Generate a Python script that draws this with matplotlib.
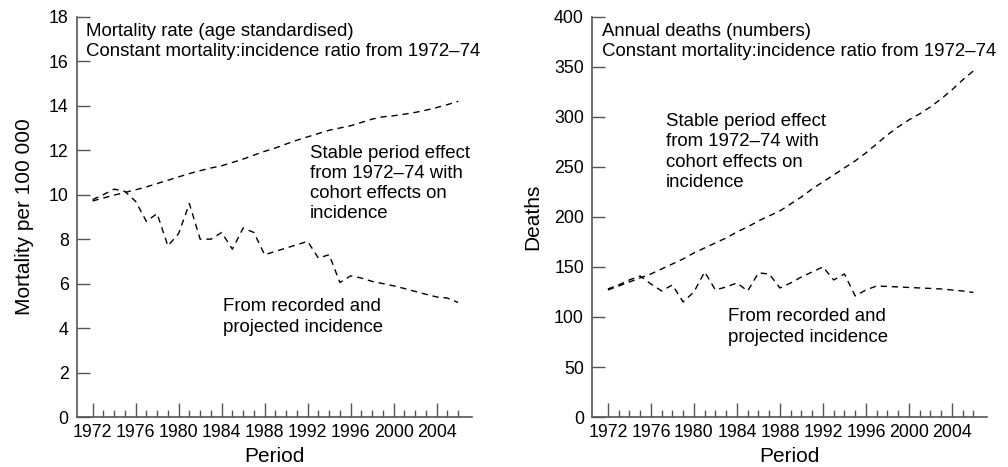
import numpy as np
import matplotlib
matplotlib.use("Agg")
import matplotlib.pyplot as plt
from matplotlib.ticker import MultipleLocator, FixedLocator

plt.rcParams["font.family"] = ["Liberation Sans", "DejaVu Sans"]

# ------------------------------------------------------------------
# Data
# ------------------------------------------------------------------
years = list(range(1972, 2007))

# Left panel: mortality rate per 100 000
rate_stable = [9.72, 9.85, 9.98, 10.1, 10.22, 10.35, 10.5, 10.65, 10.8, 10.95,
               11.08, 11.2, 11.3, 11.45, 11.6, 11.78, 11.95, 12.1, 12.28, 12.45,
               12.6, 12.75, 12.9, 13.0, 13.1, 13.25, 13.4, 13.5, 13.55, 13.62,
               13.7, 13.8, 13.92, 14.05, 14.2]
rate_recorded = [9.78, 10.0, 10.25, 10.15, 9.7, 8.8, 9.15, 7.7, 8.25, 9.6,
                 8.0, 8.0, 8.3, 7.55, 8.5, 8.3, 7.3, 7.45, 7.6, 7.75,
                 7.9, 7.15, 7.3, 6.05, 6.35, 6.25, 6.1, 6.0, 5.9, 5.78,
                 5.65, 5.52, 5.4, 5.35, 5.15]

# Right panel: annual deaths
deaths_stable = [127, 131, 135, 139, 143, 148, 153, 158, 164, 169,
                 174, 179, 185, 190, 196, 201, 206, 213, 220, 228,
                 235, 242, 249, 256, 264, 273, 282, 290, 297, 303,
                 310, 318, 327, 337, 346]
deaths_recorded = [128, 132, 137, 141, 133, 126, 132, 115, 125, 145,
                   127, 130, 134, 126, 144, 143, 129, 134, 140, 145,
                   150, 137, 143, 121, 127, 131, 130.5, 130, 129.5, 129,
                   128.5, 128, 127, 126, 124.5]

major_years = list(range(1972, 2005, 4))

# ------------------------------------------------------------------
# Style
# ------------------------------------------------------------------
axis_color = "#555555"
tick_fs = 12.8
label_fs = 15
note_fs = 13.4
dash = (0, (4.5, 3.5))

fig = plt.figure(figsize=(10.08, 4.67), dpi=100)
ax_l = fig.add_axes([0.0764, 0.107, 0.392, 0.857])
ax_r = fig.add_axes([0.5876, 0.107, 0.392, 0.857])


def style_axis(ax, ylim, ystep):
    for s in ["top", "right"]:
        ax.spines[s].set_visible(False)
    for s in ["left", "bottom"]:
        ax.spines[s].set_color(axis_color)
        ax.spines[s].set_linewidth(1.2)
    ax.set_xlim(1970.55, 2007.3)
    ax.set_ylim(*ylim)
    ax.yaxis.set_major_locator(MultipleLocator(ystep))
    ax.xaxis.set_major_locator(FixedLocator(major_years))
    ax.xaxis.set_minor_locator(FixedLocator([y for y in years if y not in major_years]))
    ax.tick_params(axis="x", which="major", direction="in", length=10, width=1,
                   color=axis_color, labelsize=tick_fs, pad=5)
    ax.tick_params(axis="x", which="minor", direction="in", length=5, width=1,
                   color=axis_color)
    ax.tick_params(axis="y", which="major", direction="in", length=9.5, width=1,
                   color=axis_color, labelsize=tick_fs, pad=6)
    ax.set_xlabel("Period", fontsize=label_fs, labelpad=4.5)


# Left panel
ax_l.plot(years, rate_stable, color="black", lw=1.0, linestyle=dash)
ax_l.plot(years, rate_recorded, color="black", lw=1.0, linestyle=dash)
style_axis(ax_l, (0, 18), 2)
ax_l.set_ylabel("Mortality per 100 000", fontsize=label_fs, labelpad=10.5)
ax_l.text(0.023, 0.985, "Mortality rate (age standardised)\nConstant mortality:incidence ratio from 1972\u201374",
          transform=ax_l.transAxes, ha="left", va="top", fontsize=note_fs, linespacing=1.25)
ax_l.text(1992.2, 10.5, "Stable period effect\nfrom 1972\u201374 with\ncohort effects on\nincidence",
          ha="left", va="center", fontsize=note_fs, linespacing=1.25)
ax_l.text(1984.1, 4.5, "From recorded and\nprojected incidence",
          ha="left", va="center", fontsize=note_fs, linespacing=1.25)

# Right panel
ax_r.plot(years, deaths_stable, color="black", lw=1.0, linestyle=dash)
ax_r.plot(years, deaths_recorded, color="black", lw=1.0, linestyle=dash)
style_axis(ax_r, (0, 400), 50)
ax_r.set_ylabel("Deaths", fontsize=label_fs, labelpad=8.5)
ax_r.text(0.024, 0.985, "Annual deaths (numbers)\nConstant mortality:incidence ratio from 1972\u201374",
          transform=ax_r.transAxes, ha="left", va="top", fontsize=note_fs, linespacing=1.25)
ax_r.text(1977.4, 265, "Stable period effect\nfrom 1972\u201374 with\ncohort effects on\nincidence",
          ha="left", va="center", fontsize=note_fs, linespacing=1.25)
ax_r.text(1983.2, 90, "From recorded and\nprojected incidence",
          ha="left", va="center", fontsize=note_fs, linespacing=1.25)

fig.savefig("out.png", dpi=100)
